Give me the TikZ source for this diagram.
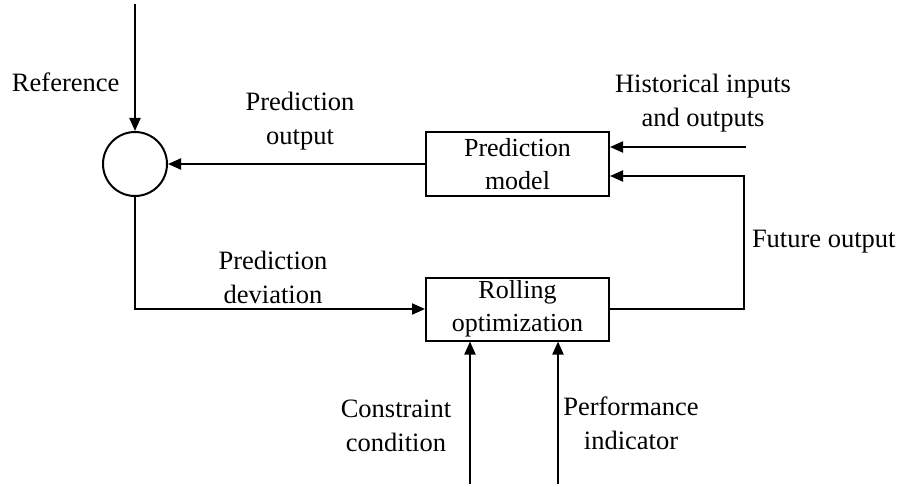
\documentclass[tikz,border=0pt]{standalone}
\usepackage{fontspec}
\setmainfont{Liberation Serif}
\usetikzlibrary{arrows.meta}
\begin{document}
\begin{tikzpicture}[x=1pt,y=-1pt,
  line width=2pt,
  arr/.style={-{Triangle[length=13pt,width=11pt]}},
  box/.style={draw,minimum width=183pt,minimum height=63pt,inner sep=0pt,align=center,font=\fontsize{26}{33}\selectfont},
  lbl/.style={align=center,inner sep=0pt,font=\fontsize{26.5}{34}\selectfont}]
\useasboundingbox (0,0) rectangle (898,487);
\node[draw,circle,minimum size=64pt,inner sep=0pt] (sum) at (135,164) {};
\node[box] (pm) at (517.5,164) {Prediction\\model};
\node[box] (ro) at (517.5,309) {Rolling\\optimization};
\coordinate (reftop) at (135,4);
\coordinate (hist) at (746,147);
\coordinate (fut) at (744,309);
\coordinate (futtop) at (744,176);
\coordinate (dev) at (135,309);
\coordinate (c1) at (470,484);
\coordinate (c2) at (558,484);
\draw[arr] (reftop) -- (sum.north);
\draw[arr] (pm.west) -- (sum.east);
\draw[arr] (hist) -- (hist -| pm.east);
\draw[arr] (ro.east) -- (fut) -- (futtop) -- (futtop -| pm.east);
\draw[arr] (sum.south) -- (dev) -- (ro.west);
\draw[arr] (c1) -- (c1 |- ro.south);
\draw[arr] (c2) -- (c2 |- ro.south);
\node[lbl,anchor=west] (lref) at (11,82) {Reference};
\node[lbl] (lpo) at (300,121) {Prediction\\output};
\node[lbl] (lhist) at (703,103) {Historical inputs\\and outputs};
\node[lbl,anchor=west] (lfut) at (751,242) {Future output};
\node[lbl] (ldev) at (273,277) {Prediction\\deviation};
\node[lbl] (lcon) at (396,426) {Constraint\\condition};
\node[lbl] (lperf) at (631,423) {Performance\\indicator};
\end{tikzpicture}
\end{document}
